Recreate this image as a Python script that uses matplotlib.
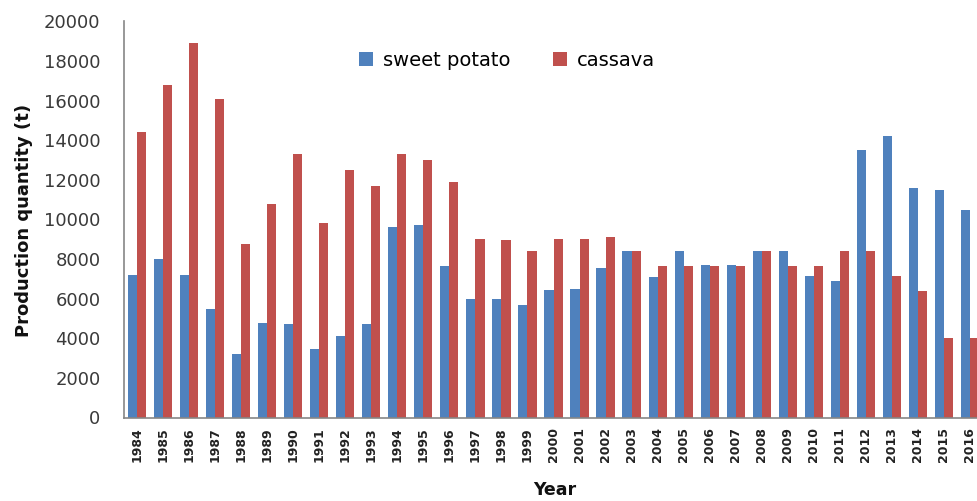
import matplotlib
matplotlib.use("Agg")
import matplotlib.pyplot as plt
import numpy as np

years = [str(y) for y in range(1984, 2017)]
sweet_potato = [7200, 8000, 7200, 5500, 3200, 4750, 4700, 3450, 4100, 4700,
                9600, 9700, 7650, 6000, 6000, 5700, 6450, 6500, 7550, 8400,
                7100, 8400, 7700, 7700, 8400, 8400, 7150, 6900, 13500, 14200,
                11600, 11500, 10500]
cassava = [14400, 16800, 18900, 16100, 8750, 10800, 13300, 9800, 12500, 11700,
           13300, 13000, 11900, 9000, 8950, 8400, 9000, 9000, 9100, 8400,
           7650, 7650, 7650, 7650, 8400, 7650, 7650, 8400, 8400, 7150,
           6400, 4000, 4000]
y_ticks = list(range(0, 20001, 2000))

blue = "#4F81BD"
red = "#C0504D"

fig = plt.figure(figsize=(9.77, 5.01), dpi=100)
ax = fig.add_axes([124 / 977, 83.5 / 501, (983 - 124) / 977, 396 / 501])

x = np.arange(len(years))
w = 0.35
ax.bar(x - w / 2, sweet_potato, width=w, color=blue, label="sweet potato")
ax.bar(x + w / 2, cassava, width=w, color=red, label="cassava")

ax.set_xlim(-0.5, len(years) - 0.5)
ax.set_ylim(0, 20000)
ax.set_yticks(y_ticks)
ax.set_yticklabels([str(t) for t in y_ticks], fontsize=13, color="#3a3a3a")
ax.set_xticks(x)
ax.set_xticklabels(years, rotation=90, fontsize=9, fontweight="bold",
                   color="#222222")
ax.tick_params(axis="y", length=0, pad=17)
ax.tick_params(axis="x", length=0, pad=7)

for s in ["top", "right"]:
    ax.spines[s].set_visible(False)
for s in ["left", "bottom"]:
    ax.spines[s].set_color("#868686")
    ax.spines[s].set_linewidth(1.2)

fig.text(24 / 977, 1 - 220 / 501, "Production quantity (t)", rotation=90,
         fontsize=13, fontweight="bold", ha="center", va="center", color="#111111")
fig.text(555 / 977, 1 - 490 / 501, "Year", fontsize=12.5, fontweight="bold",
         ha="center", va="center", color="#111111")

leg = fig.legend(loc="center", bbox_to_anchor=(507 / 977, 1 - 60 / 501), ncol=2,
                 frameon=False, fontsize=14, handlelength=0.7, handleheight=0.7,
                 handletextpad=0.5, columnspacing=2.2)

fig.savefig("out.png", dpi=100)
